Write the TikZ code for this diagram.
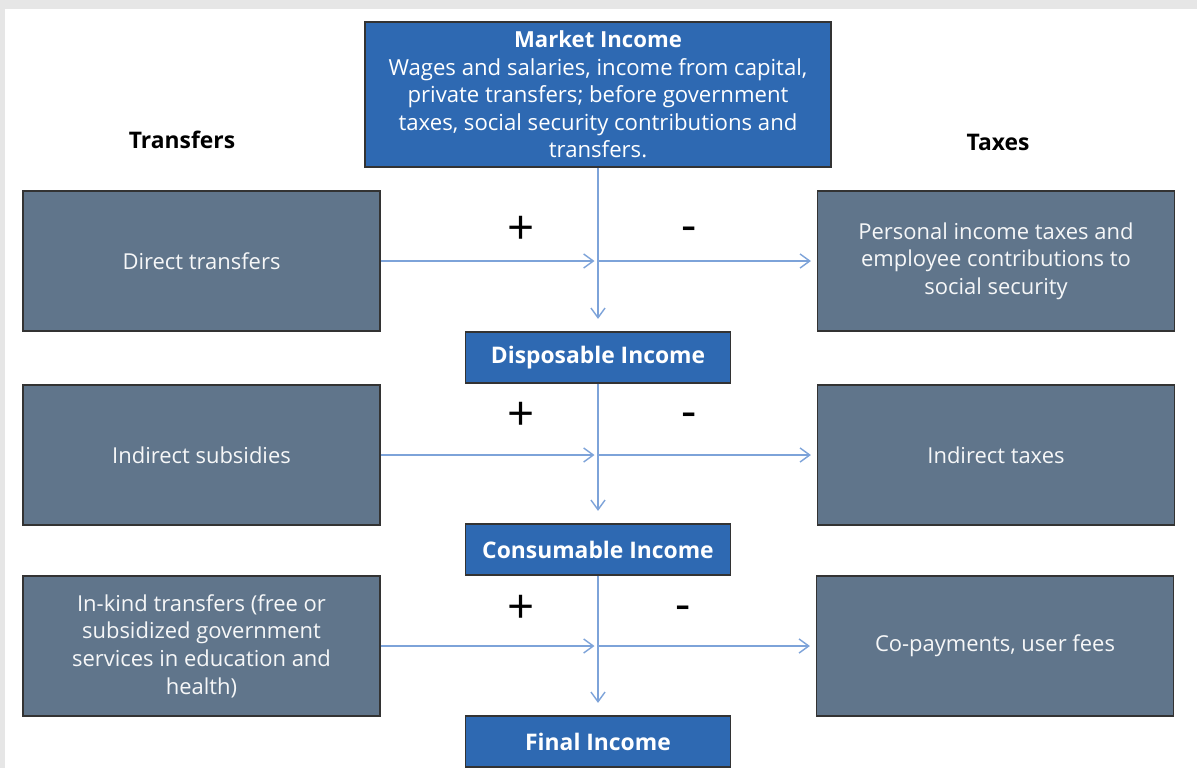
\documentclass[tikz,border=0pt]{standalone}
\usepackage{fontspec}
\setmainfont{Open Sans}
\usetikzlibrary{arrows.meta,positioning}

\definecolor{incblue}{RGB}{46,105,178}
\definecolor{slate}{RGB}{96,117,139}
\definecolor{flowblue}{RGB}{125,163,217}
\definecolor{pagegray}{RGB}{230,230,230}

\tikzset{
    incbox/.style={draw=black!80, line width=0.7pt, fill=incblue, text=white,
        minimum width=5.3cm, minimum height=1.02cm, font=\fontsize{13}{15.7}\selectfont},
    sidebox/.style={draw=black!80, line width=0.7pt, fill=slate, text=white!94!slate,
        minimum width=7.14cm, minimum height=2.8cm, font=\fontsize{12.5}{15.7}\selectfont},
    colhead/.style={font=\fontsize{13}{15.7}\selectfont\bfseries},
    sign/.style={font=\fontsize{27}{30}\selectfont, inner sep=0pt},
    flow/.style={draw=flowblue, line width=0.8pt, -{Straight Barb[length=5.5pt,width=8pt]}}
}

\begin{document}
\begin{tikzpicture}[x=0.02cm, y=-0.02cm, every node/.style={align=center}]
        \useasboundingbox (0,0) rectangle (1197,768);
        \fill[pagegray] (0,0) rectangle (1197,768);
        \fill[white] (5,9) rectangle (1197,768);

        \foreach \i/\y in {1/261,2/455,3/646}{\coordinate (mid\i) at (598,\y); }

        \node[incbox, minimum width=9.32cm, minimum height=2.9cm, font=\fontsize{12.6}{15.7}\selectfont] (market) at (598,94.5)
            {\textbf{Market Income}\\Wages and salaries, income from capital,\\private transfers; before government\\taxes, social security contributions and\\transfers.};
        \node[incbox] (disp) at (598,357.5) {\textbf{Disposable Income}};
        \node[incbox] (cons) at (598,549.5) {\textbf{Consumable Income}};
        \node[incbox] (final) at (598,741.5) {\textbf{Final Income}};

        \node[colhead] (transfers) at (182,140) {Transfers};
        \node[colhead] (taxes) at (998,142) {Taxes};

        \node[sidebox] (tr1) at (201.5,261) {Direct transfers};
        \node[sidebox] (tr2) at (201.5,455) {Indirect subsidies};
        \node[sidebox] (tr3) at (201.5,646) {In-kind transfers (free or\\subsidized government\\services in education and\\health)};

        \node[sidebox] (tx1) at (996,261) {Personal income taxes and\\employee contributions to\\social security};
        \node[sidebox] (tx2) at (996,455) {Indirect taxes};
        \node[sidebox] (tx3) at (995,646) {Co-payments, user fees};

        \foreach \a/\b in {market/disp,disp/cons,cons/final} {\draw[flow, shorten >=0.25cm] (\a.south) -- (\b.north); }
        \foreach \i in {1,2,3} {\draw[flow, shorten >=0.07cm] (tr\i.east) -- (mid\i); }
        \foreach \i in {1,2,3} {\draw[flow, shorten >=0.12cm] (mid\i) -- (tx\i.west); }

        \foreach \i/\y/\m in {1/227/689,2/413/689,3/606/683}{
            \node[sign] (plus\i) at (521,\y+3) {+};
            \node[sign] (minus\i) at (\m,\y+7) {-};
        }
    \end{tikzpicture}
\end{document}
